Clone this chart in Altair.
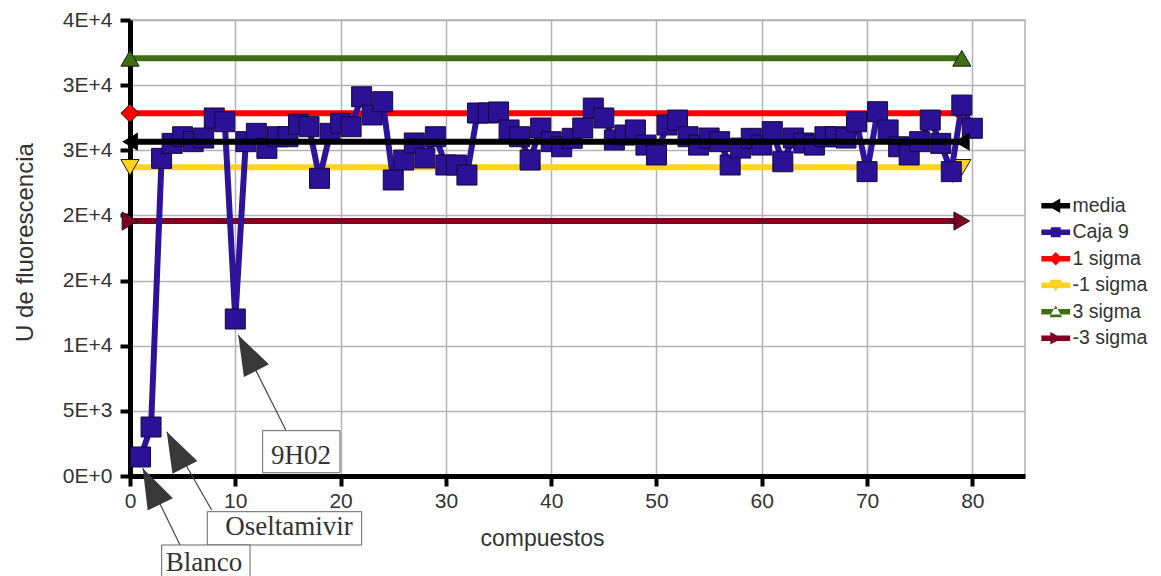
import altair as alt
import pandas as pd

# ---------------- data ----------------
caja9_x = list(range(1, 81))
caja9_y = [1460, 3760, 24380, 25530, 26040, 25660, 25940, 27480, 27190, 12050,
           25660, 26300, 25150, 26040, 26040, 27000, 26810, 22850, 26300, 27070,
           26810, 29110, 27710, 28730, 22720, 24250, 25560, 24410, 26040, 23870,
           23870, 23100, 27860, 27860, 27940, 26560, 26040, 24250, 26710, 25660,
           25270, 25920, 26710, 28240, 27480, 25790, 26170, 26560, 25400, 24640,
           26940, 27320, 26040, 25400, 25940, 25660, 23870, 25170, 25920, 25400,
           26430, 24120, 25940, 25560, 25400, 26040, 26040, 25940, 27190, 23360,
           27960, 26560, 25270, 24640, 25660, 27320, 25530, 23360, 28470, 26690]

series_names = ["media", "Caja 9", "1 sigma", "-1 sigma", "3 sigma", "-3 sigma"]
series_colors = ["#000000", "#2b1296", "#ff0000", "#ffd320", "#3f6f12", "#7e0021"]

ref_names = ["media", "1 sigma", "-1 sigma", "3 sigma", "-3 sigma"]
ref_values = [25660, 27840, 23690, 32060, 19570]
ref_x_ends = [0, 79]

sigma_names = ["1 sigma", "-1 sigma", "3 sigma", "-3 sigma"]
sigma_shapes = ["diamond", "triangle-down", "triangle-up", "triangle-right"]
sigma_colors = ["#ff0000", "#ffd320", "#3f6f12", "#7e0021"]

# legend symbols: line segment + marker
legend_paths = [
    "M-1.6,-0.3H1.6V0.3H-1.6Z M-0.9,0L0.5,-0.8L0.5,0.8Z",
    "M-1.6,-0.3H1.6V0.3H-1.6Z M-0.55,-0.55H0.55V0.55H-0.55Z",
    "M-1.6,-0.3H1.6V0.3H-1.6Z M0,-0.75L0.75,0L0,0.75L-0.75,0Z",
    "M-1.6,-0.3H1.6V0.3H-1.6Z M-0.7,-0.6L0.7,-0.6L0,0.7Z",
    "M-1.6,-0.3H1.6V0.3H-1.6Z M-0.7,0.6L0.7,0.6L0,-0.7Z",
    "M-1.6,-0.3H1.6V0.3H-1.6Z M-0.6,-0.7L0.7,0L-0.6,0.7Z",
]

# annotations
ann_labels = ["9H02", "Oseltamivir", "Blanco"]
ann_tip_x = [10.28, 3.49, 1.21]
ann_tip_y = [10820, 3400, 590]
ann_tail_x = [14.79, 7.76, 4.75]
ann_tail_y = [3530, -2610, -5296]
ann_angle = [333, 333, 334]
box_x1 = [12.6, 7.34, 3.01]
box_x2 = [19.94, 22.0, 11.4]
box_y1 = [3480, -2740, -5296]
box_y2 = [250, -5296, -8600]
text_x = [16.24, 15.1, 7.03]
text_y = [1500, -3950, -6680]

# ---------------- tables ----------------
caja_df = pd.DataFrame({"x": caja9_x, "y": caja9_y})
ref_rows = []
for n, v in zip(ref_names, ref_values):
    for xe in ref_x_ends:
        ref_rows.append({"series": n, "x": xe, "y": v})
ref_df = pd.DataFrame(ref_rows)
sigma_df = ref_df[ref_df.series != "media"]
media_df = ref_df[ref_df.series == "media"]
ann_df = pd.DataFrame({
    "label": ann_labels, "x": ann_tip_x, "y": ann_tip_y,
    "x2": ann_tail_x, "y2": ann_tail_y, "angle": ann_angle,
    "bx1": box_x1, "bx2": box_x2, "by1": box_y1, "by2": box_y2,
    "tx": text_x, "ty": text_y,
})
legend_df = pd.DataFrame({"series": series_names})

# ---------------- axes/scales ----------------
FONT = "Liberation Sans"
xscale = alt.Scale(domain=[0, 85], nice=False, zero=False)
yscale = alt.Scale(domain=[0, 35000], nice=False, zero=False)
x_axis = alt.Axis(values=list(range(0, 81, 10)), title="compuestos",
                  titleFont=FONT, titleFontSize=23, titleFontWeight="normal",
                  titleColor="#333333", titleX=412, titleY=69,
                  titleBaseline="alphabetic",
                  labelFont=FONT, labelFontSize=21, labelColor="#333333",
                  labelPadding=4, labelFlush=False,
                  tickSize=10, tickWidth=4, tickColor="black",
                  domainColor="black", domainWidth=5,
                  grid=True, gridColor="#b3b3b3", gridWidth=1.5)
y_axis = alt.Axis(values=list(range(0, 35001, 5000)),
                  labelExpr="upper(format(datum.value, '.0e'))",
                  title="U de fluorescencia",
                  titleFont=FONT, titleFontSize=24, titleFontWeight="normal",
                  titleColor="#333333", titleX=-98, titleY=222,
                  titleBaseline="alphabetic",
                  labelFont=FONT, labelFontSize=21, labelColor="#333333",
                  labelPadding=8, labelFlush=False,
                  tickSize=10, tickWidth=4, tickColor="black",
                  domainColor="black", domainWidth=5,
                  grid=True, gridColor="#b3b3b3", gridWidth=1.5)

X = alt.X("x:Q", scale=xscale, axis=x_axis)
Y = alt.Y("y:Q", scale=yscale, axis=y_axis)

sig_color = alt.Color("series:N", scale=alt.Scale(domain=sigma_names, range=sigma_colors), legend=None)

sigma_lines = alt.Chart(sigma_df).mark_line(strokeWidth=6).encode(x=X, y=Y, color=sig_color)
sigma_pts = alt.Chart(sigma_df).mark_point(filled=True, size=330, opacity=1,
                                           stroke="#1a1a1a", strokeWidth=1).encode(
    x=X, y=Y, color=sig_color,
    shape=alt.Shape("series:N", scale=alt.Scale(domain=sigma_names, range=sigma_shapes), legend=None))

caja_line = alt.Chart(caja_df).mark_line(color="#2d1399", strokeWidth=6).encode(x=X, y=Y)
caja_pts = alt.Chart(caja_df).mark_point(shape="square", filled=True, size=400, opacity=1,
                                         fill="#2a1196", stroke="#140a3c", strokeWidth=1).encode(x=X, y=Y)

media_line = alt.Chart(media_df).mark_line(color="black", strokeWidth=6).encode(x=X, y=Y)
media_pts = alt.Chart(media_df).mark_point(shape="triangle-left", filled=True, size=330,
                                           opacity=1, fill="black").encode(x=X, y=Y)

ann_rule = alt.Chart(ann_df).mark_rule(color="#444444", strokeWidth=1.2).encode(
    x=X, y=Y, x2="x2:Q", y2="y2:Q")
ann_head = alt.Chart(ann_df).mark_point(shape="M0,0L0.7,2L-0.7,2Z", filled=True, size=1600,
                                        opacity=1, fill="#383838").encode(
    x=X, y=Y, angle=alt.Angle("angle:Q", scale=None))
ann_box = alt.Chart(ann_df).mark_rect(fill="white", stroke="#666666", strokeWidth=1).encode(
    x=alt.X("bx1:Q", scale=xscale, axis=x_axis), x2="bx2:Q",
    y=alt.Y("by1:Q", scale=yscale, axis=y_axis), y2="by2:Q")
ann_text = alt.Chart(ann_df).mark_text(font="Liberation Serif", fontSize=27, color="#333333",
                                       baseline="middle", align="center").encode(
    x=alt.X("tx:Q", scale=xscale, axis=x_axis),
    y=alt.Y("ty:Q", scale=yscale, axis=y_axis), text="label:N")

leg = alt.Legend(orient="none", legendX=916, legendY=176, title=None,
                 labelFont=FONT, labelFontSize=19.5, labelColor="#333333",
                 symbolSize=324, symbolStrokeWidth=0.8, symbolStrokeColor="#222222",
                 rowPadding=5.5, labelOffset=7, padding=0, symbolOpacity=1)
legend_layer = alt.Chart(legend_df).transform_filter("false").mark_point(
    filled=True, opacity=1, stroke="#222222", strokeWidth=0.8).encode(
    color=alt.Color("series:N", scale=alt.Scale(domain=series_names, range=series_colors), legend=leg),
    shape=alt.Shape("series:N", scale=alt.Scale(domain=series_names, range=legend_paths), legend=leg))

chart = alt.layer(
    sigma_lines, sigma_pts, caja_line, caja_pts, media_line, media_pts,
    ann_rule, ann_head, ann_box, ann_text, legend_layer
).resolve_scale(color="independent", shape="independent").properties(
    width=895, height=456,
    autosize=alt.AutoSizeParams(type="none"),
    padding={"left": 122, "top": 12, "right": 128, "bottom": 100},
    background="white",
).configure_view(stroke="#b3b3b3", strokeWidth=1.5)

chart.save("out.html", embed_options={"renderer": "svg", "actions": False})
